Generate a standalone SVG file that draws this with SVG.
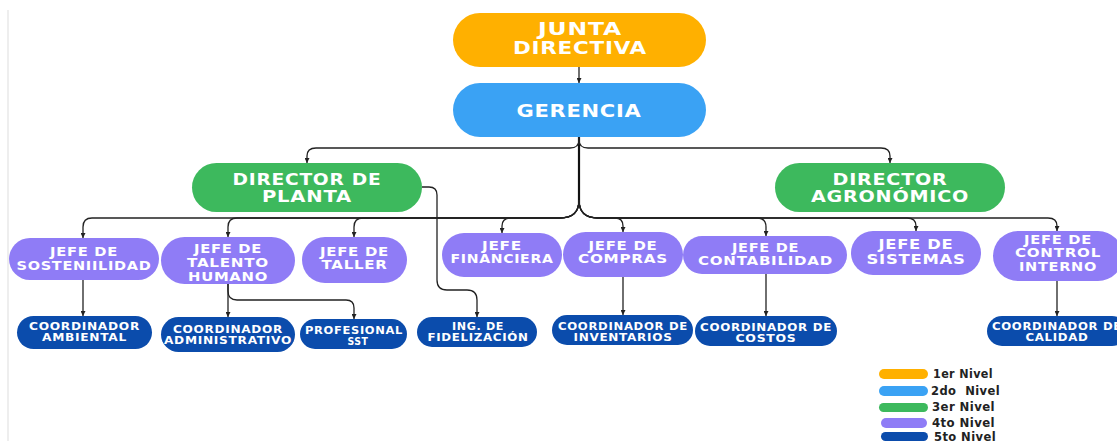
<svg xmlns="http://www.w3.org/2000/svg" width="1117" height="442" viewBox="0 0 1117 442">
<defs>
<marker id="ah" viewBox="0 0 10 10" refX="10" refY="5" markerWidth="5" markerHeight="5" markerUnits="userSpaceOnUse" orient="auto"><path d="M0,0 L10,5 L0,10 z" fill="#222"/></marker>
<style>
text{font-family:"DejaVu Sans","Liberation Sans",sans-serif;font-weight:bold;fill:#fff;text-anchor:middle;letter-spacing:0.6px}
.l1{fill:#FFB000}.l2{fill:#3AA2F4}.l3{fill:#3DB95D}.l4{fill:#8F7CF6}.l5{fill:#0B4CAC}
.f1{font-size:17px}.f3{font-size:15px}.f4{font-size:12.5px}.f5{font-size:10.5px}
.c{fill:none;stroke:#222;stroke-width:1.3;marker-end:url(#ah)}
.trunk{fill:none;stroke:#111;stroke-width:2.2}
.lg{font-size:11.5px;fill:#222;text-anchor:start;white-space:pre;letter-spacing:0.4px}
</style>
</defs>
<rect width="1117" height="442" fill="#fff"/>
<line x1="8" y1="10" x2="8" y2="441" stroke="#ddd" stroke-width="1"/>

<g id="connectors">
<path class="c" d="M579,67 V83"/>
<path class="trunk" d="M579,137 V204"/>
<path class="c" d="M579,137 V140 Q579,148 570,148 H316 Q307,148 307,156 V163"/>
<path class="c" d="M579,137 V140 Q579,148 588,148 H881 Q890,148 890,156 V163"/>
<path class="c" d="M579,200 Q579,218 560,218 H92 Q83,218 83,227 V238"/>
<path class="c" d="M579,200 Q579,218 560,218 H237 Q228,218 228,227 V237"/>
<path class="c" d="M579,200 Q579,218 560,218 H363 Q354,218 354,227 V237"/>
<path class="c" d="M579,200 Q579,218 560,218 H511 Q502,218 502,226 V233"/>
<path class="c" d="M579,200 Q579,218 598,218 H615 Q623,218 623,226 V232"/>
<path class="c" d="M579,200 Q579,218 598,218 H757 Q766,218 766,227 V236"/>
<path class="c" d="M579,200 Q579,218 598,218 H907 Q916,218 916,226 V231"/>
<path class="c" d="M579,200 Q579,218 598,218 H1048 Q1057,218 1057,226 V231"/>
<path class="c" d="M422,187 H429 Q437,187 437,195 V280 Q437,290 447,290 H467 Q477,290 477,300 V317"/>
<path class="c" d="M83,280 V316"/>
<path class="c" d="M228,284 V317"/>
<path class="c" d="M228,284 V291 Q228,300 237,300 H346 Q354,300 354,308 V319"/>
<path class="c" d="M623,277 V315"/>
<path class="c" d="M766,274 V316"/>
<path class="c" d="M1057,281 V316"/>
</g>

<g id="junta">
<rect class="l1" x="453" y="13" width="253" height="54" rx="27"/>
<text class="f1" x="580" y="34.5" textLength="84" lengthAdjust="spacingAndGlyphs">JUNTA</text>
<text class="f1" x="580" y="53.5" textLength="134" lengthAdjust="spacingAndGlyphs">DIRECTIVA</text>
</g>
<g id="gerencia">
<rect class="l2" x="453" y="83" width="253" height="54" rx="27"/>
<text class="f1" x="579" y="116.5" textLength="125" lengthAdjust="spacingAndGlyphs" style="font-size:18px">GERENCIA</text>
</g>
<g id="dir-planta">
<rect class="l3" x="192" y="163" width="230" height="49" rx="24.5"/>
<text class="f3" x="307" y="184.5" textLength="149" lengthAdjust="spacingAndGlyphs">DIRECTOR DE</text>
<text class="f3" x="307" y="202" textLength="90" lengthAdjust="spacingAndGlyphs">PLANTA</text>
</g>
<g id="dir-agro">
<rect class="l3" x="775" y="163" width="230" height="49" rx="24.5"/>
<text class="f3" x="890" y="185" textLength="115" lengthAdjust="spacingAndGlyphs">DIRECTOR</text>
<text class="f3" x="890" y="202" textLength="158" lengthAdjust="spacingAndGlyphs">AGRONÓMICO</text>
</g>

<g id="jefe-sostenibilidad">
<rect class="l4" x="9" y="238" width="150" height="42" rx="21"/>
<text class="f4" x="84" y="256" textLength="68" lengthAdjust="spacingAndGlyphs">JEFE DE</text>
<text class="f4" x="84" y="270" textLength="135" lengthAdjust="spacingAndGlyphs">SOSTENIILIDAD</text>
</g>
<g id="jefe-talento">
<rect class="l4" x="161" y="237" width="134" height="47" rx="23.5"/>
<text class="f4" x="228" y="253" textLength="68" lengthAdjust="spacingAndGlyphs">JEFE DE</text>
<text class="f4" x="228" y="267" textLength="82" lengthAdjust="spacingAndGlyphs">TALENTO</text>
<text class="f4" x="228" y="281" textLength="80" lengthAdjust="spacingAndGlyphs">HUMANO</text>
</g>
<g id="jefe-taller">
<rect class="l4" x="302" y="237" width="105" height="46" rx="23"/>
<text class="f4" x="354.5" y="256" textLength="69" lengthAdjust="spacingAndGlyphs">JEFE DE</text>
<text class="f4" x="354.5" y="269" textLength="66" lengthAdjust="spacingAndGlyphs">TALLER</text>
</g>
<g id="jefe-financiera">
<rect class="l4" x="442" y="233" width="120" height="44" rx="22"/>
<text class="f4" x="502" y="250" textLength="40" lengthAdjust="spacingAndGlyphs">JEFE</text>
<text class="f4" x="502" y="263" textLength="103" lengthAdjust="spacingAndGlyphs">FINANCIERA</text>
</g>
<g id="jefe-compras">
<rect class="l4" x="563" y="232" width="120" height="45" rx="22.5"/>
<text class="f4" x="623" y="250" textLength="69" lengthAdjust="spacingAndGlyphs">JEFE DE</text>
<text class="f4" x="623" y="263" textLength="90" lengthAdjust="spacingAndGlyphs">COMPRAS</text>
</g>
<g id="jefe-contabilidad">
<rect class="l4" x="683" y="236" width="164" height="38" rx="19"/>
<text class="f4" x="765.5" y="252" textLength="67" lengthAdjust="spacingAndGlyphs">JEFE DE</text>
<text class="f4" x="765.5" y="265" textLength="135" lengthAdjust="spacingAndGlyphs">CONTABILIDAD</text>
</g>
<g id="jefe-sistemas">
<rect class="l4" x="851" y="231" width="130" height="44" rx="22"/>
<text class="f4" x="916" y="249" textLength="75" lengthAdjust="spacingAndGlyphs" style="font-size:13.5px">JEFE DE</text>
<text class="f4" x="916" y="264" textLength="99" lengthAdjust="spacingAndGlyphs" style="font-size:13.5px">SISTEMAS</text>
</g>
<g id="jefe-control">
<rect class="l4" x="993" y="231" width="130" height="50" rx="25"/>
<text class="f4" x="1058" y="244" textLength="68" lengthAdjust="spacingAndGlyphs">JEFE DE</text>
<text class="f4" x="1058" y="257" textLength="86" lengthAdjust="spacingAndGlyphs">CONTROL</text>
<text class="f4" x="1058" y="271" textLength="78" lengthAdjust="spacingAndGlyphs">INTERNO</text>
</g>

<g id="coord-ambiental">
<rect class="l5" x="17" y="316" width="135" height="33" rx="16.5"/>
<text class="f5" x="84.5" y="330" textLength="111" lengthAdjust="spacingAndGlyphs">COORDINADOR</text>
<text class="f5" x="84.5" y="341" textLength="85" lengthAdjust="spacingAndGlyphs">AMBIENTAL</text>
</g>
<g id="coord-administrativo">
<rect class="l5" x="161" y="317" width="134" height="35" rx="17.5"/>
<text class="f5" x="228" y="333" textLength="110" lengthAdjust="spacingAndGlyphs">COORDINADOR</text>
<text class="f5" x="228" y="343.5" textLength="128" lengthAdjust="spacingAndGlyphs">ADMINISTRATIVO</text>
</g>
<g id="profesional-sst">
<rect class="l5" x="300" y="319" width="107" height="30" rx="15"/>
<text class="f5" x="354" y="334" textLength="98" lengthAdjust="spacingAndGlyphs">PROFESIONAL</text>
<text class="f5" x="358" y="345" textLength="21" lengthAdjust="spacingAndGlyphs">SST</text>
</g>
<g id="ing-fidelizacion">
<rect class="l5" x="417" y="317" width="120" height="30" rx="15"/>
<text class="f5" x="478" y="330" textLength="52" lengthAdjust="spacingAndGlyphs">ING. DE</text>
<text class="f5" x="478" y="341" textLength="101" lengthAdjust="spacingAndGlyphs">FIDELIZACIÓN</text>
</g>
<g id="coord-inventarios">
<rect class="l5" x="552" y="315" width="141" height="30" rx="15"/>
<text class="f5" x="623" y="330" textLength="130" lengthAdjust="spacingAndGlyphs">COORDINADOR DE</text>
<text class="f5" x="623" y="341" textLength="99" lengthAdjust="spacingAndGlyphs">INVENTARIOS</text>
</g>
<g id="coord-costos">
<rect class="l5" x="695" y="316" width="142" height="30" rx="15"/>
<text class="f5" x="766" y="331" textLength="132" lengthAdjust="spacingAndGlyphs">COORDINADOR DE</text>
<text class="f5" x="766" y="342" textLength="61" lengthAdjust="spacingAndGlyphs">COSTOS</text>
</g>
<g id="coord-calidad">
<rect class="l5" x="987" y="316" width="140" height="30" rx="15"/>
<text class="f5" x="1057" y="330" textLength="130" lengthAdjust="spacingAndGlyphs">COORDINADOR DE</text>
<text class="f5" x="1057" y="341" textLength="63" lengthAdjust="spacingAndGlyphs">CALIDAD</text>
</g>

<g id="legend">
<rect class="l1" x="879" y="369" width="49" height="10" rx="5"/>
<text class="lg" x="933" y="378" textLength="60" lengthAdjust="spacingAndGlyphs">1er Nivel</text>
<rect class="l2" x="879" y="386" width="49" height="10" rx="5"/>
<text class="lg" x="931" y="395" textLength="69" lengthAdjust="spacingAndGlyphs">2do  Nivel</text>
<rect class="l3" x="879" y="403" width="49" height="9" rx="4.5"/>
<text class="lg" x="932" y="411" textLength="63" lengthAdjust="spacingAndGlyphs">3er Nivel</text>
<rect class="l4" x="881" y="418" width="46" height="10" rx="5"/>
<text class="lg" x="932" y="427" textLength="63" lengthAdjust="spacingAndGlyphs">4to Nivel</text>
<rect class="l5" x="881" y="432" width="47" height="9" rx="4.5"/>
<text class="lg" x="934" y="441" textLength="62" lengthAdjust="spacingAndGlyphs">5to Nivel</text>
</g>
</svg>
